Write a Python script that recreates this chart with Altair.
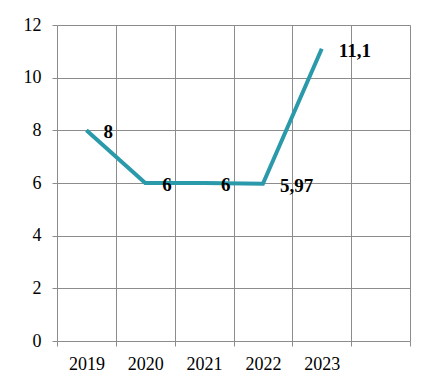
import altair as alt
import pandas as pd

years = ["2019", "2020", "2021", "2022", "2023"]
values = [8, 6, 6, 5.97, 11.1]
labels = ["8", "6", "6", "5,97", "11,1"]
x_domain = years + ["2024"]
y_ticks = [0, 2, 4, 6, 8, 10, 12]

df = pd.DataFrame({"year": years, "value": values, "label": labels})

FONT = "Liberation Serif"
GRID = "#8c8c8c"

x = alt.X(
    "year:N",
    scale=alt.Scale(domain=x_domain, paddingInner=0, paddingOuter=0),
    axis=alt.Axis(
        title=None,
        labelAngle=0,
        tickBand="extent",
        grid=True,
        gridColor=GRID,
        gridWidth=1,
        domain=False,
        tickColor=GRID,
        tickSize=5,
        labelPadding=9,
        labelFont=FONT,
        labelFontSize=18,
        labelColor="#000000",
        labelExpr="datum.value == '2024' ? '' : datum.value",
    ),
)

y = alt.Y(
    "value:Q",
    scale=alt.Scale(domain=[0, 12], nice=False, zero=True),
    axis=alt.Axis(
        title=None,
        values=y_ticks,
        grid=True,
        gridColor=GRID,
        gridWidth=1,
        domain=False,
        tickColor=GRID,
        tickSize=5,
        labelPadding=11,
        labelFont=FONT,
        labelFontSize=18,
        labelColor="#000000",
    ),
)

line = alt.Chart(df).mark_line(color="#2a9aab", strokeWidth=4).encode(x=x, y=y)

text = alt.Chart(df).mark_text(
    align="left", baseline="middle", dx=17, dy=2,
    font=FONT, fontSize=19, fontWeight="bold", color="#000000"
).encode(x=alt.X("year:N", scale=alt.Scale(domain=x_domain, paddingInner=0, paddingOuter=0)),
         y=alt.Y("value:Q"), text="label:N")

chart = alt.layer(line, text).properties(
    width=353, height=316,
    autosize=alt.AutoSizeParams(type="none"),
    padding={"left": 49, "top": 17, "right": 10, "bottom": 40},
).configure_view(stroke=GRID, strokeWidth=1).configure(background="#ffffff")

chart.save("out.html", embed_options={"renderer": "svg", "actions": False})
